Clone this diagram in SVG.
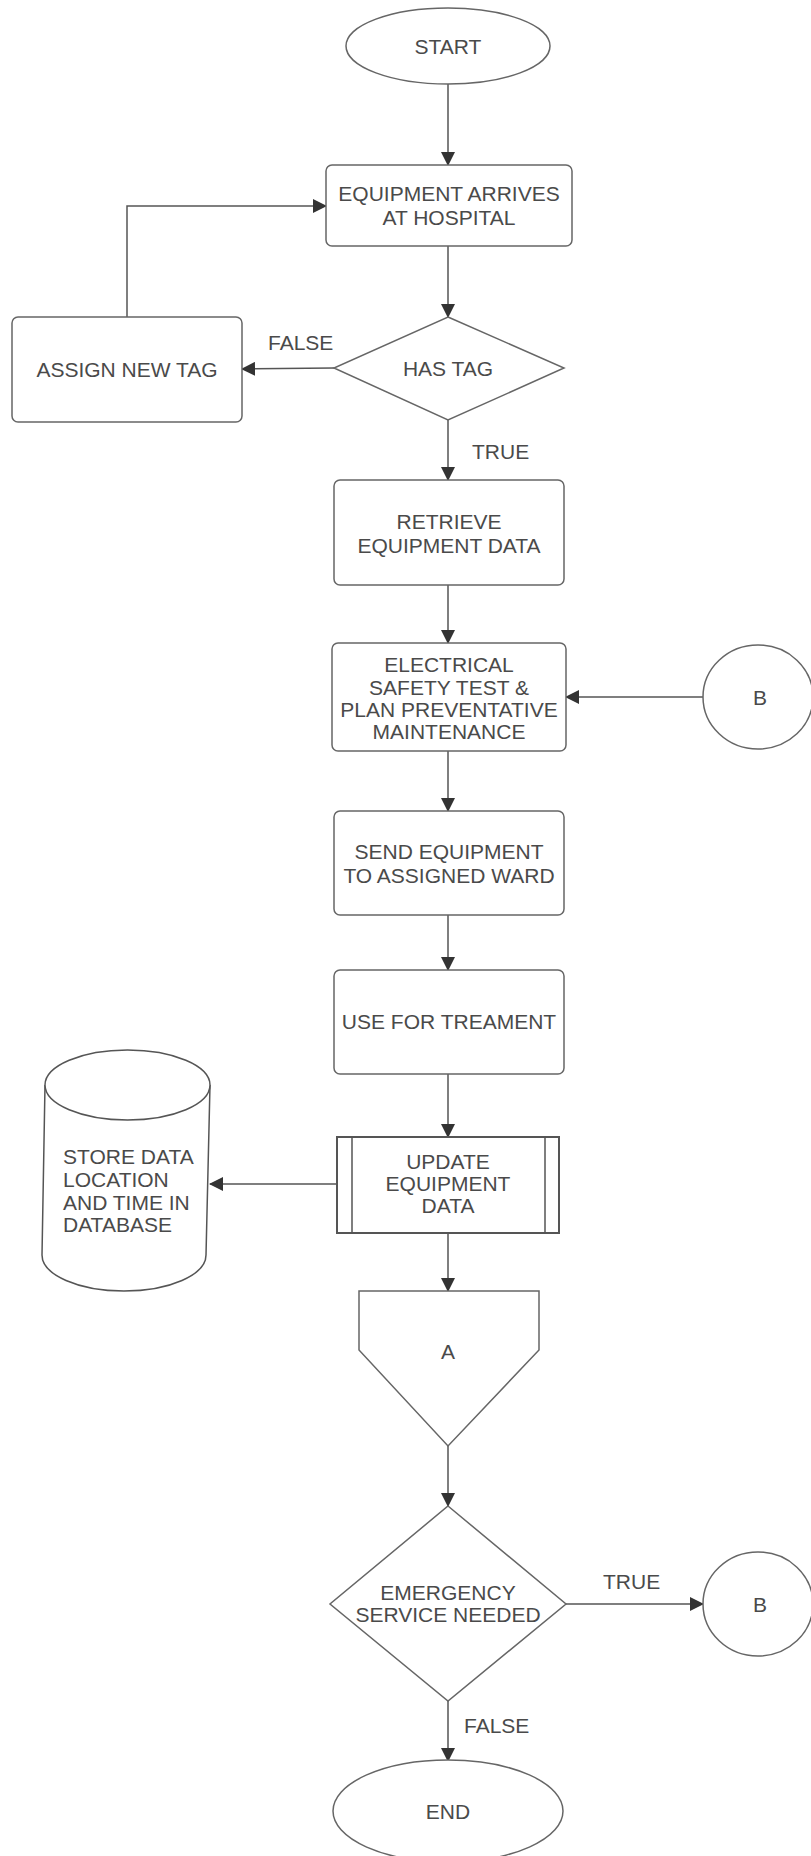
<svg xmlns="http://www.w3.org/2000/svg" width="811" height="1856" viewBox="0 0 811 1856">
<defs>
<marker id="ah" markerUnits="userSpaceOnUse" markerWidth="14" markerHeight="14" refX="13" refY="7" orient="auto">
<path d="M0,0 L14,7 L0,14 Z" fill="#333"/>
</marker>
<style>
.s{fill:#fff;stroke:#666;stroke-width:1.5}
.c{fill:none;stroke:#555;stroke-width:1.5}
.t{font-family:"Liberation Sans",Arial,sans-serif;font-size:21px;fill:#4a4a4a;text-anchor:middle}
.l{font-family:"Liberation Sans",Arial,sans-serif;font-size:21px;fill:#4a4a4a;text-anchor:start}
</style>
</defs>
<rect width="811" height="1856" fill="#fff"/>
<g id="connectors">
<line class="c" x1="448" y1="84" x2="448" y2="165" marker-end="url(#ah)"/>
<line class="c" x1="448" y1="246" x2="448" y2="317" marker-end="url(#ah)"/>
<line class="c" x1="334" y1="368" x2="242" y2="369" marker-end="url(#ah)"/>
<polyline class="c" points="127,317 127,206 326,206" marker-end="url(#ah)"/>
<line class="c" x1="448" y1="420" x2="448" y2="480" marker-end="url(#ah)"/>
<line class="c" x1="448" y1="585" x2="448" y2="643" marker-end="url(#ah)"/>
<line class="c" x1="703" y1="697" x2="566" y2="697" marker-end="url(#ah)"/>
<line class="c" x1="448" y1="751" x2="448" y2="811" marker-end="url(#ah)"/>
<line class="c" x1="448" y1="915" x2="448" y2="970" marker-end="url(#ah)"/>
<line class="c" x1="448" y1="1074" x2="448" y2="1137" marker-end="url(#ah)"/>
<line class="c" x1="337" y1="1184" x2="210" y2="1184" marker-end="url(#ah)"/>
<line class="c" x1="448" y1="1233" x2="448" y2="1291" marker-end="url(#ah)"/>
<line class="c" x1="448" y1="1446" x2="448" y2="1506" marker-end="url(#ah)"/>
<line class="c" x1="566" y1="1604" x2="703" y2="1604" marker-end="url(#ah)"/>
<line class="c" x1="448" y1="1701" x2="448" y2="1761" marker-end="url(#ah)"/>
<text class="l" x="268" y="350">FALSE</text>
<text class="l" x="472" y="459">TRUE</text>
<text class="l" x="603" y="1589">TRUE</text>
<text class="l" x="464" y="1733">FALSE</text>
</g>
<g id="start">
<ellipse class="s" cx="448" cy="46" rx="102" ry="38"/>
<text class="t" x="448" y="54">START</text>
</g>
<g id="arrives">
<rect class="s" x="326" y="165" width="246" height="81" rx="6"/>
<text class="t" x="449" y="201">EQUIPMENT ARRIVES</text>
<text class="t" x="449" y="225">AT HOSPITAL</text>
</g>
<g id="hastag">
<polygon class="s" points="448,317 564,368 448,420 334,368"/>
<text class="t" x="448" y="376">HAS TAG</text>
</g>
<g id="assign">
<rect class="s" x="12" y="317" width="230" height="105" rx="6"/>
<text class="t" x="127" y="377">ASSIGN NEW TAG</text>
</g>
<g id="retrieve">
<rect class="s" x="334" y="480" width="230" height="105" rx="6"/>
<text class="t" x="449" y="529">RETRIEVE</text>
<text class="t" x="449" y="553">EQUIPMENT DATA</text>
</g>
<g id="electrical">
<rect class="s" x="332" y="643" width="234" height="108" rx="6"/>
<text class="t" x="449" y="672">ELECTRICAL</text>
<text class="t" x="449" y="695">SAFETY TEST &amp;</text>
<text class="t" x="449" y="717">PLAN PREVENTATIVE</text>
<text class="t" x="449" y="739">MAINTENANCE</text>
</g>
<g id="b1">
<ellipse class="s" cx="758" cy="697" rx="55" ry="52"/>
<text class="t" x="760" y="705">B</text>
</g>
<g id="send">
<rect class="s" x="334" y="811" width="230" height="104" rx="6"/>
<text class="t" x="449" y="859">SEND EQUIPMENT</text>
<text class="t" x="449" y="883">TO ASSIGNED WARD</text>
</g>
<g id="use">
<rect class="s" x="334" y="970" width="230" height="104" rx="6"/>
<text class="t" x="449" y="1029">USE FOR TREAMENT</text>
</g>
<g id="update">
<rect x="337" y="1137" width="222" height="96" fill="#fff" stroke="#555" stroke-width="2"/>
<line class="c" x1="352" y1="1137" x2="352" y2="1233"/>
<line class="c" x1="545" y1="1137" x2="545" y2="1233"/>
<text class="t" x="448" y="1169">UPDATE</text>
<text class="t" x="448" y="1191">EQUIPMENT</text>
<text class="t" x="448" y="1213">DATA</text>
</g>
<g id="database">
<path d="M45,1085 L42,1255 A82,36 0 0 0 206,1255 L210,1085" fill="#fff" stroke="#555" stroke-width="1.5"/>
<ellipse cx="127.5" cy="1085" rx="82.5" ry="35" fill="#fff" stroke="#555" stroke-width="1.5"/>
<text class="l" x="63" y="1164">STORE DATA</text>
<text class="l" x="63" y="1187">LOCATION</text>
<text class="l" x="63" y="1210">AND TIME IN</text>
<text class="l" x="63" y="1232">DATABASE</text>
</g>
<g id="a">
<polygon class="s" points="359,1291 539,1291 539,1350 448,1446 359,1350"/>
<text class="t" x="448" y="1359">A</text>
</g>
<g id="emergency">
<polygon class="s" points="448,1506 566,1604 448,1701 330,1604"/>
<text class="t" x="448" y="1600">EMERGENCY</text>
<text class="t" x="448" y="1622">SERVICE NEEDED</text>
</g>
<g id="b2">
<ellipse class="s" cx="758" cy="1604" rx="55" ry="52"/>
<text class="t" x="760" y="1612">B</text>
</g>
<g id="end">
<ellipse class="s" cx="448" cy="1811" rx="115" ry="51"/>
<text class="t" x="448" y="1819">END</text>
</g>
</svg>
